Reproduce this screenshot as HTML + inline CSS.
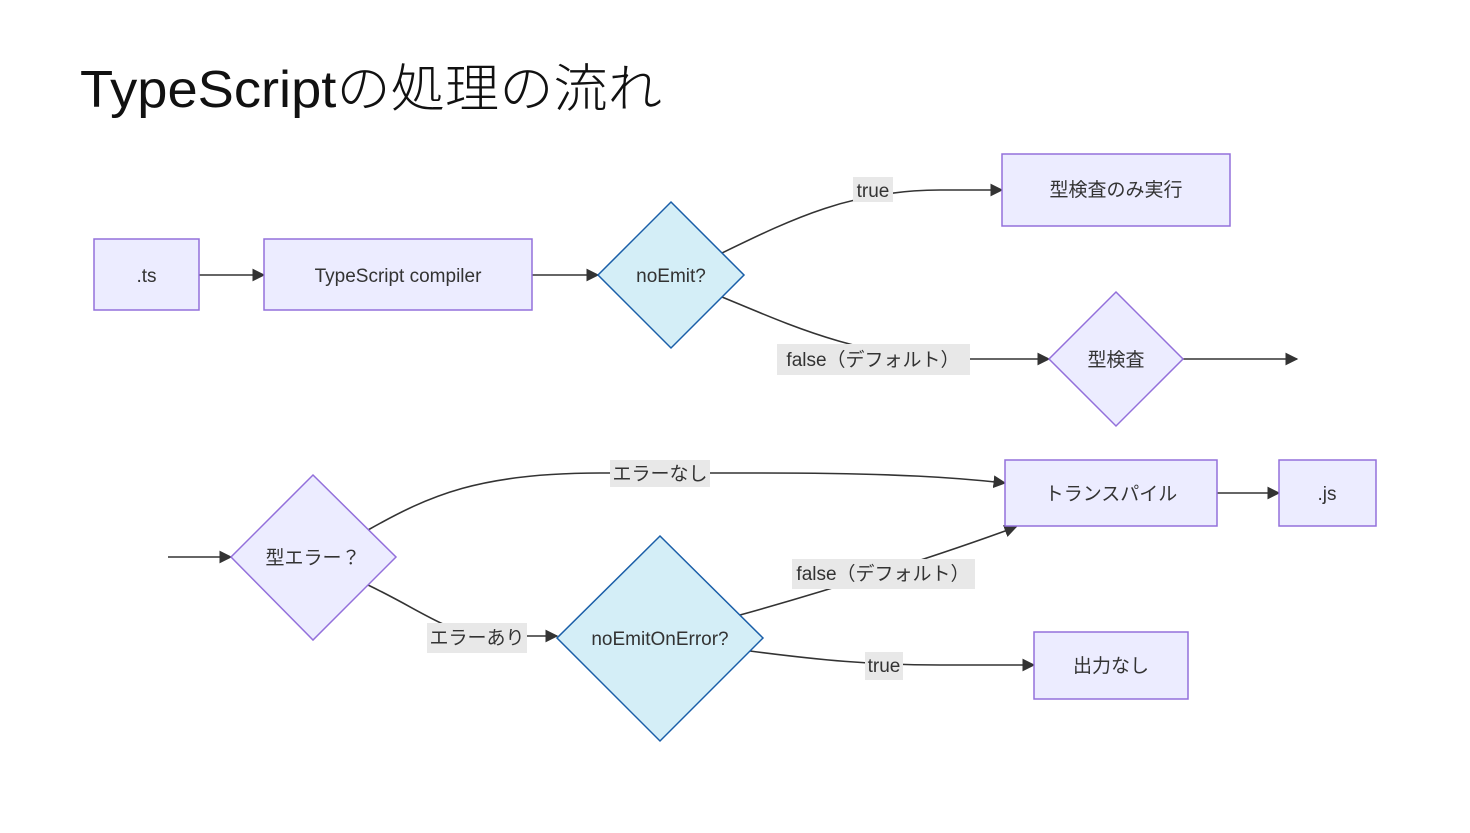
<!DOCTYPE html>
<html><head><meta charset="utf-8"><style>
html,body{margin:0;padding:0;background:#fff;}
svg text{font-family:"Liberation Sans","Noto Sans CJK JP",sans-serif;fill:#333;}
</style></head><body>
<svg width="1470" height="828" viewBox="0 0 1470 828" xmlns="http://www.w3.org/2000/svg">
<defs><marker id="a" viewBox="0 0 10 10" refX="9" refY="5" markerWidth="8" markerHeight="8" orient="auto"><path d="M0,0L10,5L0,10z" fill="#333"/></marker></defs>
<text x="80" y="107" font-size="52" textLength="582" lengthAdjust="spacingAndGlyphs" style="fill:#111;font-weight:300">TypeScriptの処理の流れ</text>
<g fill="none" stroke="#333" stroke-width="1.6">
<path d="M199,275H264" marker-end="url(#a)"/>
<path d="M532,275H598" marker-end="url(#a)"/>
<path d="M722,253C790,220 850,190 940,190H1002" marker-end="url(#a)"/>
<path d="M722,297C790,325 860,358 960,359H1049" marker-end="url(#a)"/>
<path d="M1183,359H1297" marker-end="url(#a)"/>
<path d="M168,557H231" marker-end="url(#a)"/>
<path d="M368,530C430,495 480,473 600,473H760C900,473 960,478 1005,483" marker-end="url(#a)"/>
<path d="M368,585C420,610 440,628 480,636H557" marker-end="url(#a)"/>
<path d="M740,615C830,590 940,555 1016,527" marker-end="url(#a)"/>
<path d="M750,651C820,660 870,665 940,665H1034" marker-end="url(#a)"/>
<path d="M1217,493H1279" marker-end="url(#a)"/>
</g>
<g fill="#ECECFF" stroke="#9370DB" stroke-width="1.5">
<rect x="94" y="239" width="105" height="71"/>
<rect x="264" y="239" width="268" height="71"/>
<rect x="1002" y="154" width="228" height="72"/>
<rect x="1005" y="460" width="212" height="66"/>
<rect x="1279" y="460" width="97" height="66"/>
<rect x="1034" y="632" width="154" height="67"/>
<path d="M1116,292L1183,359L1116,426L1049,359z"/>
<path d="M313,475L396,557L313,640L231,557z"/>
</g>
<g fill="#D4EEF7" stroke="#1a5ea8" stroke-width="1.5">
<path d="M671,202L744,275L671,348L598,275z"/>
<path d="M660,536L763,638L660,741L557,638z"/>
</g>
<g fill="#e8e8e8">
<rect x="853" y="177" width="40" height="25"/>
<rect x="777" y="344" width="193" height="31"/>
<rect x="610" y="460" width="100" height="27"/>
<rect x="427" y="623" width="100" height="30"/>
<rect x="792" y="559" width="183" height="30"/>
<rect x="865" y="652" width="38" height="28"/>
</g>
<g font-size="19" text-anchor="middle">
<text x="146.5" y="282">.ts</text>
<text x="398" y="282">TypeScript compiler</text>
<text x="671" y="282">noEmit?</text>
<text x="1116" y="196">型検査のみ実行</text>
<text x="1116" y="366">型検査</text>
<text x="313" y="564">型エラー？</text>
<text x="660" y="645">noEmitOnError?</text>
<text x="1111" y="500">トランスパイル</text>
<text x="1327" y="500">.js</text>
<text x="1111" y="672">出力なし</text>
<text x="873" y="197">true</text>
<text x="873" y="366">false（デフォルト）</text>
<text x="660" y="480">エラーなし</text>
<text x="477" y="644">エラーあり</text>
<text x="883" y="580">false（デフォルト）</text>
<text x="884" y="672">true</text>
</g>
</svg>
</body></html>
